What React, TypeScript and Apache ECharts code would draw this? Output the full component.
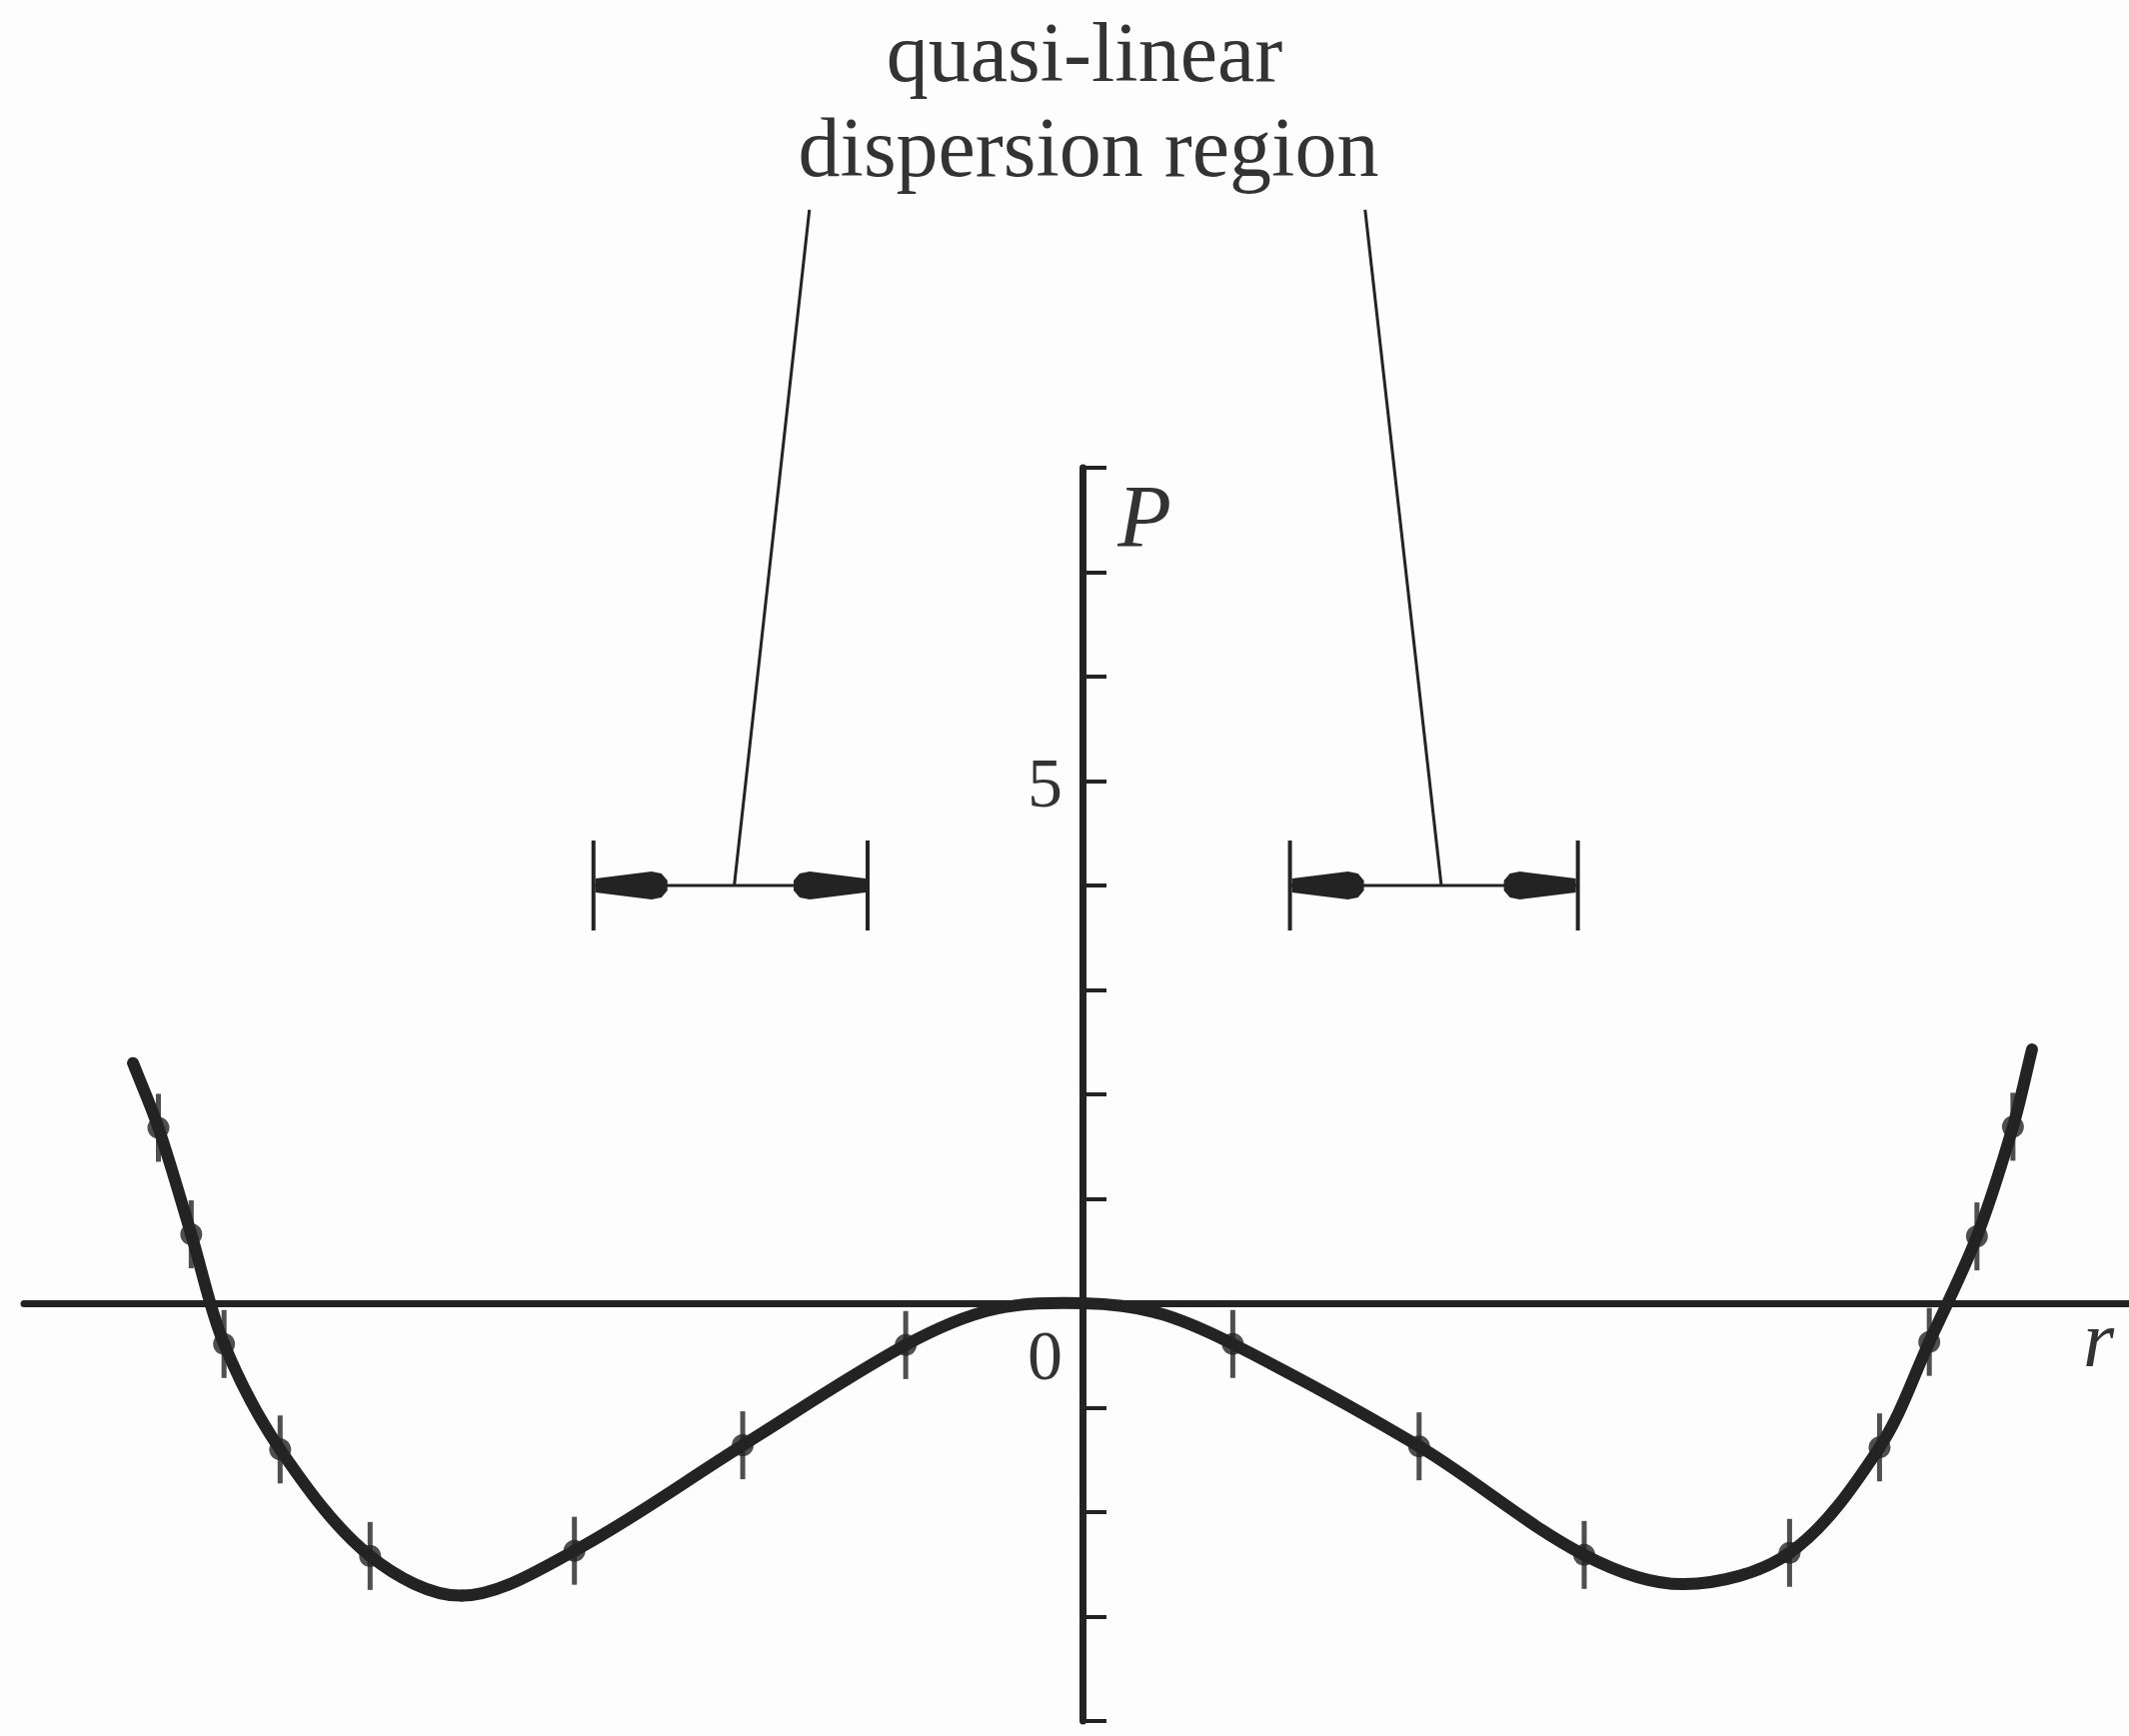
import React, { useEffect, useRef } from "react";
import * as echarts from "echarts";

// Traced dispersion curve P(r), left branch to right branch
const curveR = [
  -8.97, -8.73, -8.42, -8.11, -7.58, -6.73, -5.86, -4.8, -3.21, -1.67, -0.85, 0,
  0.7, 1.42, 3.18, 4.74, 5.68, 6.68, 7.53, 8.0, 8.45, 8.79, 8.97,
];
const curveP = [
  2.3, 1.68, 0.66, -0.39, -1.4, -2.42, -2.8, -2.37, -1.36, -0.4, -0.06, 0,
  -0.09, -0.39, -1.37, -2.41, -2.69, -2.39, -1.38, -0.37, 0.64, 1.69, 2.43,
];

// Measured points
const pointR = [-8.73, -8.42, -8.11, -7.58, -6.73, -4.8, -3.21, -1.67, 1.42, 3.18, 4.74, 6.68, 7.53, 8.0, 8.45, 8.79];
const pointP = [1.68, 0.66, -0.39, -1.4, -2.42, -2.37, -1.36, -0.4, -0.39, -1.37, -2.41, -2.39, -1.38, -0.37, 0.64, 1.69];

// Quasi-linear regions: span, level, leader foot, leader top
const regionFrom = [-4.62, 1.96];
const regionTo = [-2.03, 4.68];
const regionLevel = [4, 4];
const leaderFoot = [-3.29, 3.39];
const leaderTopR = [-2.58, 2.67];
const leaderTopP = [10.47, 10.47];

const yTickLabels = [5];
const originLabel = "0";
const titleLines = ["quasi-linear", "dispersion region"];
const yName = "P";
const xName = "r";

const INK = "#232323";
const TEXT = "#333333";
const SERIF = "'Liberation Serif', 'Times New Roman', serif";

export default function App() {
  const ref = useRef<HTMLDivElement>(null);

  useEffect(() => {
    if (!ref.current) return;
    const chart = echarts.init(ref.current, undefined, { renderer: "svg" });

    const arrowPts = (p: number[], dir: number) => {
      const s: number[][] = [
        [2, -7], [58, -14], [68, -12], [74, -5], [74, 5], [68, 12], [58, 14], [2, 7],
      ];
      return s.map(([dx, dy]) => [p[0] + dir * dx, p[1] + dy]);
    };

    const n = curveR.length;
    const clampIdx = (k: number) => Math.max(0, Math.min(n - 1, k));
    const dist = (a: number[], b: number[]) => Math.hypot(b[0] - a[0], b[1] - a[1]);

    // One cubic segment per traced interval; tangents come from the neighbouring points,
    // weighted by segment length so uneven spacing does not overshoot.
    const renderCurveSegment = (params: any, api: any) => {
      const i = params.dataIndex;
      if (i >= n - 1) return null;
      const at = (k: number) => {
        const j = clampIdx(k);
        return api.coord([curveR[j], curveP[j]]);
      };
      const p0 = at(i - 1);
      const p1 = at(i);
      const p2 = at(i + 1);
      const p3 = at(i + 2);
      const tension = 1 / 3;
      const d01 = dist(p0, p1);
      const d12 = dist(p1, p2);
      const d23 = dist(p2, p3);
      const w1 = d01 + d12 > 0 ? (tension * d12) / (d01 + d12) : 0;
      const w2 = d12 + d23 > 0 ? (tension * d12) / (d12 + d23) : 0;
      return {
        type: "bezierCurve",
        shape: {
          x1: p1[0],
          y1: p1[1],
          x2: p2[0],
          y2: p2[1],
          cpx1: p1[0] + (p2[0] - p0[0]) * w1,
          cpy1: p1[1] + (p2[1] - p0[1]) * w1,
          cpx2: p2[0] - (p3[0] - p1[0]) * w2,
          cpy2: p2[1] - (p3[1] - p1[1]) * w2,
        },
        style: { stroke: INK, lineWidth: 12, fill: null, lineCap: "round" },
      };
    };

    chart.setOption({
      animation: false,
      backgroundColor: "#fdfdfd",
      grid: {
        left: 24,
        right: -12,
        top: 468,
        bottom: 15,
        containLabel: false,
        outerBoundsMode: "none",
      },
      xAxis: {
        type: "value",
        min: -10,
        max: 10,
        axisLine: { onZero: true, lineStyle: { color: INK, width: 7 } },
        axisTick: { show: false },
        splitLine: { show: false },
        axisLabel: { show: false },
      },
      yAxis: {
        type: "value",
        min: -4,
        max: 8,
        interval: 1,
        axisLine: { onZero: true, lineStyle: { color: INK, width: 7 } },
        axisTick: { show: true, inside: true, length: 24, lineStyle: { color: INK, width: 4 } },
        splitLine: { show: false },
        axisLabel: { show: false },
      },
      series: [
        {
          type: "custom",
          clip: false,
          encode: { x: 0, y: 1 },
          data: curveR.map((r, i) => [r, curveP[i]]),
          renderItem: renderCurveSegment,
          z: 3,
        },
        {
          type: "scatter",
          data: pointR.map((r, i) => [r, pointP[i]]),
          symbol: "rect",
          symbolSize: [5, 68],
          itemStyle: { color: INK },
          z: 4,
        },
        {
          type: "scatter",
          data: pointR.map((r, i) => [r, pointP[i]]),
          symbol: "circle",
          symbolSize: 22,
          itemStyle: { color: INK },
          z: 5,
        },
        {
          type: "custom",
          clip: false,
          encode: { x: [0, 1], y: 2 },
          data: regionFrom.map((f, i) => [f, regionTo[i], regionLevel[i], leaderFoot[i], leaderTopR[i], leaderTopP[i]]),
          renderItem: (_params: any, api: any) => {
            const lvl = api.value(2);
            const a = api.coord([api.value(0), lvl]);
            const b = api.coord([api.value(1), lvl]);
            const f = api.coord([api.value(3), lvl]);
            const t = api.coord([api.value(4), api.value(5)]);
            const barH = 45;
            return {
              type: "group",
              children: [
                { type: "line", shape: { x1: a[0], y1: a[1], x2: b[0], y2: b[1] }, style: { stroke: INK, lineWidth: 3 } },
                { type: "line", shape: { x1: a[0], y1: a[1] - barH, x2: a[0], y2: a[1] + barH }, style: { stroke: INK, lineWidth: 4 } },
                { type: "line", shape: { x1: b[0], y1: b[1] - barH, x2: b[0], y2: b[1] + barH }, style: { stroke: INK, lineWidth: 4 } },
                { type: "polygon", shape: { points: arrowPts(a, 1) }, style: { fill: INK } },
                { type: "polygon", shape: { points: arrowPts(b, -1) }, style: { fill: INK } },
                { type: "line", shape: { x1: f[0], y1: f[1], x2: t[0], y2: t[1] }, style: { stroke: INK, lineWidth: 3 } },
              ],
            };
          },
          z: 3,
        },
      ],
    });

    const px = (r: number, p: number) => chart.convertToPixel({ gridIndex: 0 }, [r, p]) as number[];
    const top = px(0, 8);
    const origin = px(0, 0);
    const rEnd = px(9.6, 0);

    const tickTexts = yTickLabels.map((v) => {
      const pt = px(0, v);
      return {
        type: "text",
        x: pt[0] - 20,
        y: pt[1] + 2,
        style: { text: String(v), font: `70px ${SERIF}`, fill: TEXT, align: "right", verticalAlign: "middle" },
      };
    });

    chart.setOption({
      graphic: [
        {
          type: "text",
          x: top[0] + 2,
          y: 52,
          style: { text: titleLines[0], font: `84px ${SERIF}`, fill: TEXT, align: "center", verticalAlign: "middle" },
        },
        {
          type: "text",
          x: top[0] + 6,
          y: 147,
          style: { text: titleLines[1], font: `84px ${SERIF}`, fill: TEXT, align: "center", verticalAlign: "middle" },
        },
        {
          type: "text",
          x: top[0] + 62,
          y: top[1] + 48,
          style: { text: yName, font: `italic 88px ${SERIF}`, fill: TEXT, align: "center", verticalAlign: "middle" },
        },
        {
          type: "text",
          x: rEnd[0],
          y: rEnd[1] + 36,
          style: { text: xName, font: `italic 80px ${SERIF}`, fill: TEXT, align: "center", verticalAlign: "middle" },
        },
        {
          type: "text",
          x: origin[0] - 20,
          y: origin[1] + 52,
          style: { text: originLabel, font: `70px ${SERIF}`, fill: TEXT, align: "right", verticalAlign: "middle" },
        },
        ...tickTexts,
      ],
    });

    return () => chart.dispose();
  }, []);

  return (
    <div
      ref={ref}
      style={{ position: "absolute", left: 0, top: 0, width: 2130, height: 1737 }}
    />
  );
}
